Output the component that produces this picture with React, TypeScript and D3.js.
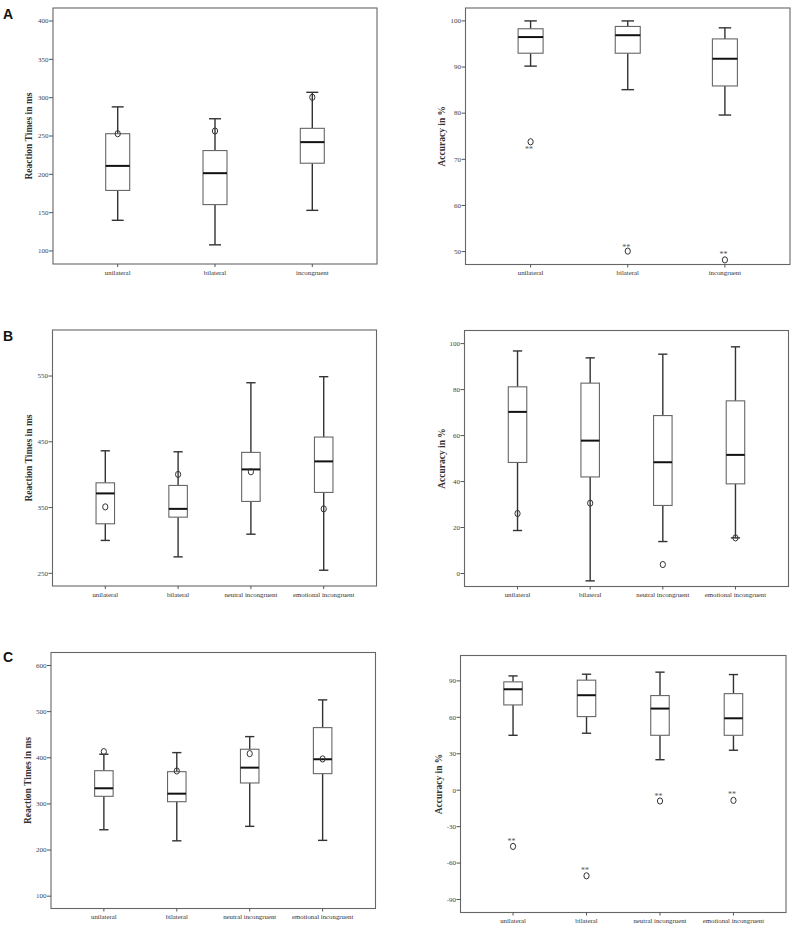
import React from "react";
import * as d3 from "d3";

// ---------- DATA ----------
const catsA = ["unilateral", "bilateral", "incongruent"];
const cats4 = ["unilateral", "bilateral", "neutral incongruent", "emotional incongruent"];

// Panel A – reaction times
const aRtLow = [140, 108, 153];
const aRtQ1 = [179, 160.5, 214.5];
const aRtMed = [211, 201.5, 242];
const aRtQ3 = [253, 231, 260];
const aRtHigh = [288, 272.5, 307];
const aRtOut = [253, 256.5, 300.5];
const aRtTicks = [100, 150, 200, 250, 300, 350, 400];

// Panel A – accuracy
const aAcLow = [90.2, 85.1, 79.6];
const aAcQ1 = [93, 93, 85.9];
const aAcMed = [96.5, 96.9, 91.8];
const aAcQ3 = [98.3, 98.8, 96.1];
const aAcHigh = [100, 100, 98.5];
const aAcOut = [73.8, 50.1, 48.2];
const aAcStars = [72.4, 51.3, 49.7];
const aAcTicks = [50, 60, 70, 80, 90, 100];

// Panel B – reaction times
const bRtLow = [300, 275, 309.5, 254.7];
const bRtQ1 = [325.3, 335.4, 359.3, 373];
const bRtMed = [371.5, 348, 408, 420.2];
const bRtQ3 = [387.6, 383.6, 433.9, 457.2];
const bRtHigh = [436.3, 434.8, 539.8, 549];
const bRtOut = [351, 400.4, 404.4, 348];
const bRtTicks = [250, 350, 450, 550];

// Panel B – accuracy
const bAcLow = [18.7, -3.2, 13.9, 15.5];
const bAcQ1 = [48.3, 42, 29.6, 39];
const bAcMed = [70.3, 57.8, 48.4, 51.6];
const bAcQ3 = [81.2, 82.8, 68.7, 75.1];
const bAcHigh = [96.8, 93.8, 95.4, 98.6];
const bAcOut = [26.1, 30.6, 3.9, 15.5];
const bAcTicks = [0, 20, 40, 60, 80, 100];

// Panel C – reaction times
const cRtLow = [244, 220, 251.4, 221];
const cRtQ1 = [316.5, 304.8, 345.4, 365.6];
const cRtMed = [333.9, 322.2, 378.6, 396.8];
const cRtQ3 = [372, 369.9, 418.5, 465.4];
const cRtHigh = [407.7, 411.2, 445.9, 525.5];
const cRtOut = [413.3, 371.4, 409, 397.5];
const cRtTicks = [100, 200, 300, 400, 500, 600];

// Panel C – accuracy
const cAcLow = [45.2, 46.9, 25.1, 32.9];
const cAcQ1 = [70.2, 60.6, 45.2, 45.2];
const cAcMed = [83.1, 78.2, 67.2, 59.2];
const cAcQ3 = [89.2, 90.6, 77.9, 79.5];
const cAcHigh = [94.1, 95.5, 97.2, 95.2];
const cAcOut = [-46.3, -70.5, -8.9, -8.4];
const cAcStars = [-41, -64.7, -4.2, -2.3];
const cAcTicks = [-90, -60, -30, 0, 30, 60, 90];

const rtTitle = "Reaction Times in ms";
const acTitle = "Accuracy in %";

// ---------- LAYOUT ----------
type Panel = {
  letter?: string;
  letterY?: number;
  x0: number; x1: number; y0: number; y1: number;
  domain: [number, number];
  pad: number;
  boxW: number;
  titleX: number;
  title: string;
  cats: string[];
  low: number[]; q1: number[]; med: number[]; q3: number[]; high: number[];
  out: number[]; stars?: number[]; starDx?: number;
  ticks: number[];
};

const panels: Panel[] = [
  { letter: "A", letterY: 19, x0: 53, x1: 377, y0: 8, y1: 264, domain: [83, 417], pad: 0.665, boxW: 24, titleX: 29, title: rtTitle, cats: catsA,
    low: aRtLow, q1: aRtQ1, med: aRtMed, q3: aRtQ3, high: aRtHigh, out: aRtOut, ticks: aRtTicks },
  { x0: 465.5, x1: 790, y0: 8, y1: 264.5, domain: [47.2, 102.8], pad: 0.67, boxW: 25, titleX: 441.5, title: acTitle, cats: catsA,
    low: aAcLow, q1: aAcQ1, med: aAcMed, q3: aAcQ3, high: aAcHigh, out: aAcOut, stars: aAcStars, starDx: -1.5, ticks: aAcTicks },
  { letter: "B", letterY: 341, x0: 52.5, x1: 376.5, y0: 330, y1: 586, domain: [230.7, 620], pad: 0.725, boxW: 18.5, titleX: 29, title: rtTitle, cats: cats4,
    low: bRtLow, q1: bRtQ1, med: bRtMed, q3: bRtQ3, high: bRtHigh, out: bRtOut, ticks: bRtTicks },
  { x0: 464.5, x1: 788.5, y0: 330.5, y1: 586.5, domain: [-5.65, 105.7], pad: 0.73, boxW: 18.5, titleX: 441.5, title: acTitle, cats: cats4,
    low: bAcLow, q1: bAcQ1, med: bAcMed, q3: bAcQ3, high: bAcHigh, out: bAcOut, ticks: bAcTicks },
  { letter: "C", letterY: 662, x0: 51, x1: 375.5, y0: 652.5, y1: 908.5, domain: [73.3, 628.2], pad: 0.725, boxW: 18.5, titleX: 27.5, title: rtTitle, cats: cats4,
    low: cRtLow, q1: cRtQ1, med: cRtMed, q3: cRtQ3, high: cRtHigh, out: cRtOut, ticks: cRtTicks },
  { x0: 460.5, x1: 786, y0: 655.5, y1: 912.5, domain: [-100.7, 110.9], pad: 0.715, boxW: 18.5, titleX: 438.5, title: acTitle, cats: cats4,
    low: cAcLow, q1: cAcQ1, med: cAcMed, q3: cAcQ3, high: cAcHigh, out: cAcOut, stars: cAcStars, starDx: -1.5, ticks: cAcTicks },
];

const serif = "'Liberation Serif', 'DejaVu Serif', serif";
const sans = "'Liberation Sans', Arial, sans-serif";

function BoxPanel({ p }: { p: Panel }) {
  const y = d3.scaleLinear().domain(p.domain).range([p.y1, p.y0]);
  const x = d3.scalePoint<string>().domain(p.cats).range([p.x0, p.x1]).padding(p.pad);
  const capW = p.boxW * 0.5;
  return (
    <g>
      {p.letter && (
        <text x={3} y={p.letterY} fontFamily={sans} fontWeight="bold" fontSize={14} fill="#111">
          {p.letter}
        </text>
      )}
      <rect x={p.x0} y={p.y0} width={p.x1 - p.x0} height={p.y1 - p.y0} fill="none" stroke="#666" strokeWidth={1.1} />
      {p.ticks.map((t) => (
        <g key={t}>
          <line x1={p.x0 - 4} x2={p.x0} y1={y(t)} y2={y(t)} stroke="#555" strokeWidth={1} />
          <text x={p.x0 - 4.5} y={y(t)} dy="0.33em" textAnchor="end" fontFamily={serif} fontSize={7} fill="#444">
            {t}
          </text>
        </g>
      ))}
      <text
        transform={`translate(${p.titleX},${(p.y0 + p.y1) / 2}) rotate(-90)`}
        textAnchor="middle"
        dominantBaseline="central"
        fontFamily={serif}
        fontWeight="bold"
        fontSize={9.5}
        fill="#333"
      >
        {p.title}
      </text>
      {p.cats.map((c, i) => {
        const cx = x(c) as number;
        return (
          <g key={c}>
            <line x1={cx} x2={cx} y1={p.y1} y2={p.y1 + 3} stroke="#555" strokeWidth={1} />
            <text x={cx} y={p.y1 + 10.5} textAnchor="middle" fontFamily={serif} fontSize={6.8} fill="#333">
              {c}
            </text>
            {/* whiskers */}
            <line x1={cx} x2={cx} y1={y(p.high[i])} y2={y(p.q3[i])} stroke="#333" strokeWidth={1.4} />
            <line x1={cx} x2={cx} y1={y(p.q1[i])} y2={y(p.low[i])} stroke="#333" strokeWidth={1.4} />
            <line x1={cx - capW / 2} x2={cx + capW / 2} y1={y(p.high[i])} y2={y(p.high[i])} stroke="#333" strokeWidth={1.4} />
            <line x1={cx - capW / 2} x2={cx + capW / 2} y1={y(p.low[i])} y2={y(p.low[i])} stroke="#333" strokeWidth={1.4} />
            {/* box */}
            <rect
              x={cx - p.boxW / 2}
              y={y(p.q3[i])}
              width={p.boxW}
              height={y(p.q1[i]) - y(p.q3[i])}
              fill="#fff"
              stroke="#666"
              strokeWidth={1.1}
            />
            <line x1={cx - p.boxW / 2} x2={cx + p.boxW / 2} y1={y(p.med[i])} y2={y(p.med[i])} stroke="#111" strokeWidth={2} />
            {/* outlier */}
            <ellipse cx={cx} cy={y(p.out[i])} rx={2.6} ry={3.1} fill="none" stroke="#333" strokeWidth={1} />
            {p.stars && (
              <text
                x={cx + (p.starDx || 0)}
                y={y(p.stars[i]) + 4.2}
                textAnchor="middle"
                fontFamily={serif}
                fontSize={8}
                fill="#555"
              >
                **
              </text>
            )}
          </g>
        );
      })}
    </g>
  );
}

export default function App() {
  return (
    <svg
      width={800}
      height={931}
      viewBox="0 0 800 931"
      style={{ position: "absolute", left: 0, top: 0, background: "#fff" }}
    >
      <rect x={0} y={0} width={800} height={931} fill="#fff" />
      {panels.map((p, i) => (
        <BoxPanel key={i} p={p} />
      ))}
    </svg>
  );
}
